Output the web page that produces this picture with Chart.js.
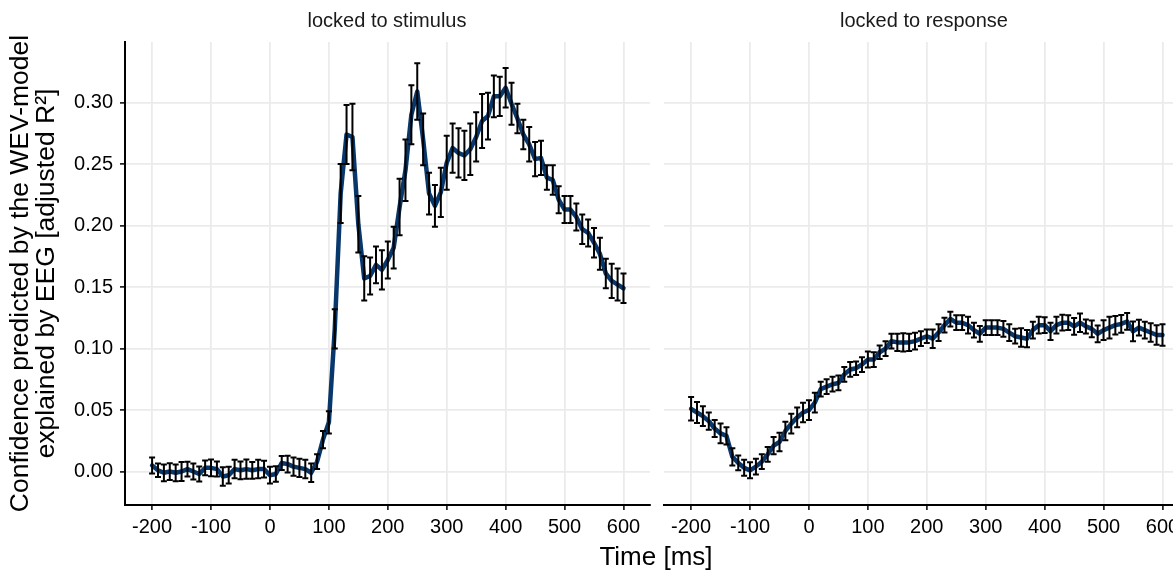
<!DOCTYPE html>
<html>
<head>
<meta charset="utf-8">
<script src="https://cdn.jsdelivr.net/npm/chart.js@4.4.0/dist/chart.umd.min.js"></script>
<style>
html,body{margin:0;padding:0;width:1173px;height:572px;overflow:hidden;background:#fff;font-family:"Liberation Sans",Arial,sans-serif;}
#leftBox{position:absolute;left:0;top:0;width:652px;height:572px;}
#rightBox{position:absolute;left:650px;top:0;width:560px;height:572px;}
.strip{position:absolute;top:9px;height:22px;line-height:22px;font-size:20px;color:#1a1a1a;transform:translateX(-50%);white-space:nowrap;}
#xTitle{position:absolute;left:656px;top:542px;line-height:28px;font-size:26px;color:#000;transform:translateX(-50%);white-space:nowrap;}
</style>
</head>
<body>
<div id="leftBox"><canvas id="cLeft"></canvas></div>
<div id="rightBox"><canvas id="cRight"></canvas></div>
<div class="strip" style="left:387px">locked to stimulus</div>
<div class="strip" style="left:924px">locked to response</div>
<div id="xTitle">Time [ms]</div>
<script>
// ---- data ----
const panelTitles = ['locked to stimulus', 'locked to response'];
const times = [-200,-190,-180,-170,-160,-150,-140,-130,-120,-110,-100,-90,-80,-70,-60,-50,-40,-30,-20,-10,
  0,10,20,30,40,50,60,70,80,90,100,110,120,130,140,150,160,170,180,190,
  200,210,220,230,240,250,260,270,280,290,300,310,320,330,340,350,360,370,380,390,
  400,410,420,430,440,450,460,470,480,490,500,510,520,530,540,550,560,570,580,590,600];

const stimMean = [0.005,0.001,-0.001,0.000,-0.001,0.000,0.002,0.000,-0.002,0.003,
  0.003,0.002,-0.004,-0.003,0.002,0.001,0.002,0.001,0.002,0.002,
  -0.003,-0.002,0.007,0.006,0.004,0.003,0.002,-0.001,0.008,0.026,
  0.040,0.116,0.226,0.274,0.272,0.201,0.157,0.159,0.168,0.164,
  0.172,0.182,0.215,0.245,0.290,0.309,0.270,0.226,0.216,0.227,
  0.251,0.263,0.259,0.257,0.262,0.272,0.285,0.289,0.305,0.305,
  0.312,0.299,0.287,0.274,0.266,0.254,0.255,0.239,0.237,0.221,
  0.213,0.213,0.207,0.197,0.194,0.186,0.177,0.161,0.155,0.152,0.149];
const stimErr = [0.0065,0.0055,0.0068,0.0068,0.0068,0.0077,0.006,0.0065,0.006,0.006,
  0.0068,0.0061,0.0075,0.0068,0.0075,0.0072,0.0078,0.0068,0.0075,0.0068,
  0.0068,0.0064,0.0057,0.0068,0.0075,0.0075,0.0075,0.0075,0.006,0.007,
  0.009,0.016,0.024,0.024,0.027,0.023,0.018,0.015,0.015,0.016,
  0.015,0.017,0.023,0.025,0.024,0.023,0.021,0.017,0.017,0.020,
  0.022,0.020,0.020,0.020,0.021,0.020,0.022,0.019,0.017,0.016,
  0.016,0.017,0.012,0.012,0.014,0.014,0.014,0.010,0.012,0.011,
  0.011,0.011,0.011,0.012,0.011,0.012,0.013,0.012,0.014,0.013,0.012];

const respMean = [0.051,0.048,0.045,0.041,0.035,0.031,0.029,0.012,0.007,0.003,
  0.001,0.004,0.008,0.014,0.021,0.024,0.033,0.039,0.044,0.048,
  0.050,0.056,0.067,0.069,0.071,0.072,0.079,0.083,0.084,0.087,
  0.091,0.091,0.097,0.100,0.106,0.105,0.105,0.105,0.106,0.108,
  0.110,0.108,0.113,0.119,0.124,0.121,0.121,0.119,0.115,0.112,
  0.117,0.117,0.117,0.116,0.113,0.110,0.109,0.108,0.115,0.119,
  0.119,0.114,0.119,0.121,0.121,0.118,0.121,0.118,0.116,0.112,
  0.115,0.117,0.119,0.120,0.122,0.114,0.117,0.115,0.113,0.111,0.111];
const respErr = [0.0095,0.0085,0.008,0.007,0.007,0.008,0.007,0.007,0.006,0.0065,
  0.0065,0.0065,0.006,0.006,0.007,0.0075,0.0075,0.008,0.008,0.008,
  0.008,0.008,0.006,0.006,0.006,0.006,0.006,0.006,0.0055,0.006,
  0.0065,0.006,0.0055,0.006,0.006,0.007,0.0075,0.007,0.0068,0.006,
  0.0055,0.0075,0.0068,0.006,0.006,0.006,0.006,0.0068,0.006,0.0064,
  0.006,0.006,0.006,0.0064,0.0068,0.006,0.0075,0.007,0.0068,0.0068,
  0.0064,0.007,0.0068,0.0064,0.006,0.0068,0.0075,0.0057,0.0068,0.0068,
  0.008,0.0088,0.0075,0.0072,0.0068,0.008,0.0064,0.0068,0.0075,0.008,0.0088];

const xTicks = [-200,-100,0,100,200,300,400,500,600];
const yTicks = [0.00,0.05,0.10,0.15,0.20,0.25,0.30];
const yTickLabels = ['0.00','0.05','0.10','0.15','0.20','0.25','0.30'];
const yTitle = ['Confidence predicted by the WEV-model', 'explained by EEG [adjusted R\u00B2]'];

// ---- rendering ----
const FONT = '"Liberation Sans", Arial, sans-serif';
const X_MIN = -246, X_MAX = 645;
const Y_MIN = -0.0272, Y_MAX = 0.3492;
const LINE_COLOR = '#08376b';

function errorBarPlugin(tArr, mArr, eArr) {
  return {
    id: 'errorBars',
    afterDatasetsDraw(chart) {
      const ctx = chart.ctx, xs = chart.scales.x, ys = chart.scales.y;
      ctx.save();
      ctx.strokeStyle = '#000';
      ctx.lineWidth = 2;
      const cap = 3;
      for (let i = 0; i < tArr.length; i++) {
        const px = xs.getPixelForValue(tArr[i]);
        const lo = ys.getPixelForValue(mArr[i] - eArr[i]);
        const hi = ys.getPixelForValue(mArr[i] + eArr[i]);
        ctx.beginPath();
        ctx.moveTo(px, lo); ctx.lineTo(px, hi);
        ctx.moveTo(px - cap, lo); ctx.lineTo(px + cap, lo);
        ctx.moveTo(px - cap, hi); ctx.lineTo(px + cap, hi);
        ctx.stroke();
      }
      ctx.restore();
    }
  };
}

function makeChart(canvasId, mArr, eArr, isLeft) {
  const yScale = {
    type: 'linear', min: Y_MIN, max: Y_MAX,
    afterBuildTicks: s => { s.ticks = yTicks.map(v => ({ value: v })); },
    afterFit: s => { s.width = isLeft ? 125 : 0; },
    grid: { color: '#ebebeb', lineWidth: 1.8, drawTicks: isLeft, tickColor: '#000', tickLength: 5, tickWidth: 1.5 },
    border: { display: isLeft, color: '#000', width: 2 },
    ticks: {
      display: isLeft, color: '#000', padding: 7,
      font: { family: FONT, size: 20 },
      callback: (v) => { const k = yTicks.findIndex(t => Math.abs(t - v) < 1e-9); return k >= 0 ? yTickLabels[k] : ''; }
    },
    title: {
      display: isLeft, text: yTitle, color: '#000',
      font: { family: FONT, size: 26.5, lineHeight: 1.0 },
      padding: { top: 7, bottom: 0 }
    }
  };
  const xScale = {
    type: 'linear', min: X_MIN, max: X_MAX,
    afterBuildTicks: s => { s.ticks = xTicks.map(v => ({ value: v })); },
    afterFit: s => { s.height = 67; },
    grid: { color: '#ebebeb', lineWidth: 1.8, drawTicks: true, tickColor: '#000', tickLength: 5, tickWidth: 1.5 },
    border: { display: true, color: '#000', width: 2 },
    ticks: {
      color: '#000', padding: 5, autoSkip: false, maxRotation: 0,
      font: { family: FONT, size: 20 },
      callback: (v) => String(v)
    }
  };
  return new Chart(document.getElementById(canvasId), {
    type: 'line',
    data: {
      datasets: [{
        data: times.map((t, i) => ({ x: t, y: mArr[i] })),
        borderColor: LINE_COLOR, borderWidth: 4.5, pointRadius: 0, tension: 0,
        borderJoinStyle: 'round', borderCapStyle: 'round', fill: false
      }]
    },
    options: {
      responsive: true, maintainAspectRatio: false, animation: false,
      layout: { padding: isLeft ? { left: 0, right: 2, top: 42, bottom: 0 } : { left: 14, right: 21, top: 42, bottom: 0 } },
      plugins: { legend: { display: false }, tooltip: { enabled: false } },
      scales: { x: xScale, y: yScale }
    },
    plugins: [errorBarPlugin(times, mArr, eArr)]
  });
}

makeChart('cLeft', stimMean, stimErr, true);
makeChart('cRight', respMean, respErr, false);
</script>
</body>
</html>
